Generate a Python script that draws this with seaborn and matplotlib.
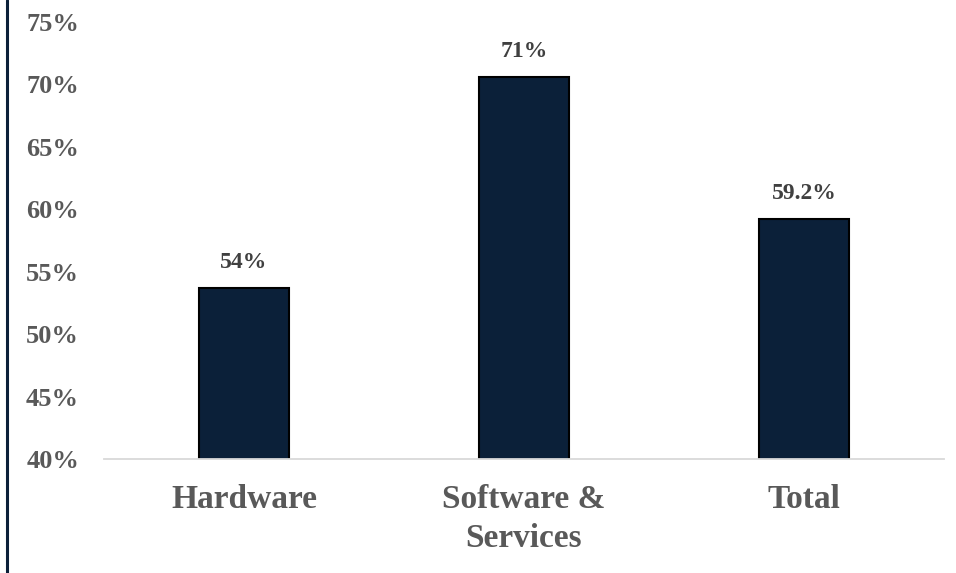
import seaborn as sns
import matplotlib.pyplot as plt
import matplotlib.lines as mlines
import pandas as pd

# 数据
categories = ["Hardware", "Software &\nServices", "Total"]
values = [53.7, 70.6, 59.2]
value_labels = ["54%", "71%", "59.2%"]
y_ticks = [40, 45, 50, 55, 60, 65, 70, 75]

sns.set_style("white")
plt.rcParams["font.family"] = ["Liberation Serif", "DejaVu Serif"]
plt.rcParams["font.weight"] = "bold"

navy = "#0B2039"
grey = "#595959"

df = pd.DataFrame({"category": categories, "value": values})

fig = plt.figure(figsize=(9.56, 5.73), dpi=100)
ax = fig.add_axes([0.1088, 0.199, 0.8786, 0.7626])

sns.barplot(data=df, x="category", y="value", color=navy, width=0.32,
            edgecolor="black", linewidth=1.5, saturation=1, ax=ax)

ax.set_ylim(40, 75)
ax.set_xlim(-0.5, 2.5)
ax.set_yticks(y_ticks)
ax.set_yticklabels([f"{t}%" for t in y_ticks], fontsize=19, color=grey,
                   fontweight="bold")
ax.tick_params(axis="y", length=0, pad=18)
ax.tick_params(axis="x", length=0, pad=18, labelsize=24, labelcolor=grey)
for lbl in ax.get_xticklabels():
    lbl.set_fontweight("bold")
    lbl.set_linespacing(1.35)
ax.set_xlabel("")
ax.set_ylabel("")

for s in ["top", "right", "left"]:
    ax.spines[s].set_visible(False)
ax.spines["bottom"].set_color("#D9D9D9")
ax.spines["bottom"].set_linewidth(1.3)

# 数值标签
for i, (v, txt) in enumerate(zip(values, value_labels)):
    ax.annotate(txt, (i, v), xytext=(0, 11), textcoords="offset points",
                ha="center", va="bottom", fontsize=17, fontweight="bold",
                color="#404040")

# 左侧竖线
fig.add_artist(mlines.Line2D([7 / 956, 7 / 956], [0, 1], color=navy,
                             linewidth=2.2, transform=fig.transFigure))

fig.savefig("out.png", dpi=100)
plt.close(fig)
